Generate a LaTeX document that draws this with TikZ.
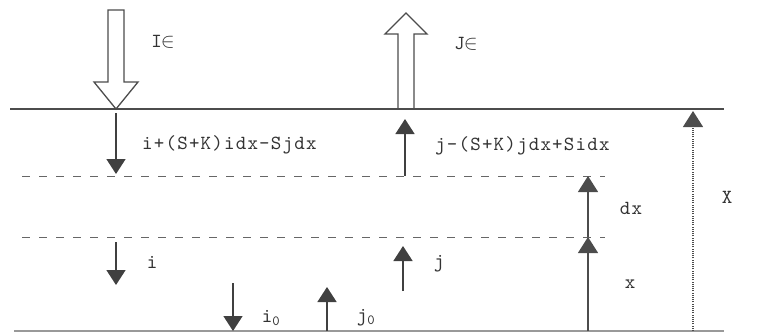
\documentclass[tikz,border=0pt]{standalone}
\usepackage{fontspec}
\newfontfamily\labelfont{lmmono10-regular.otf}[LetterSpace=6]
\usetikzlibrary{arrows.meta, positioning}

\begin{document}
\begin{tikzpicture}[
        x=1pt, y=-1pt,
        every node/.style={font=\labelfont\fontsize{20}{20}\selectfont, text=black!80, inner sep=0pt},
        flux/.style={-{Triangle[width=19pt, length=15pt]}, line width=1.6pt, black!75},
        level/.style={line width=1.1pt, black!70},
        layer/.style={line width=1pt, black!60, dash pattern=on 8pt off 9pt},
        bigarrow/.style={line width=1.3pt, black!70, line join=miter}
    ]

    \tikzset{
    dimen/.style={-{Triangle[width=20pt, length=16pt]}, line width=1.2pt, black!70},
    total/.style={dimen, dash pattern=on 1pt off 1.2pt}
}

    \useasboundingbox (0,0) rectangle (760,333);

    % levels
    \coordinate (surfL) at (10,109);
    \coordinate (surfR) at (724,109);
    \coordinate (baseL) at (14,331);
    \coordinate (baseR) at (724,331);
    \coordinate (upL) at (22,176);
    \coordinate (upR) at (605,176);
    \coordinate (loL) at (22,237);
    \coordinate (loR) at (605,237);

    \draw[level] (surfL) -- (surfR);
    \draw[level, black!40] (baseL) -- (baseR);
    \draw[layer] (upL) -- (upR);
    \draw[layer] (loL) -- (loR);

    % incident and emergent fluxes
    \draw[bigarrow] (108,10) -- (124,10) -- (124,82) -- (138,82) -- (116,109)
        -- (94,82) -- (108,82) -- cycle;
    \draw[bigarrow] (398,109) -- (398,34) -- (385,34) -- (406,13) -- (427,34)
        -- (414,34) -- (414,109);

    \node (IE) at (163,42) {I\kern-1pt$\in$};
    \node (JE) at (466,44) {J\kern-1pt$\in$};

    % fluxes in the layer
    \coordinate (i1s) at (116,113);
    \coordinate (i1e) at (116,174);
    \coordinate (j1s) at (405,176);
    \coordinate (j1e) at (405,119);
    \coordinate (i2s) at (116,242);
    \coordinate (i2e) at (116,285);
    \coordinate (j2s) at (403,291);
    \coordinate (j2e) at (403,246);
    \coordinate (i0s) at (233,283);
    \coordinate (i0e) at (233,331);
    \coordinate (j0s) at (327,331);
    \coordinate (j0e) at (327,287);

    \draw[flux] (i1s) -- (i1e);
    \draw[flux] (j1s) -- (j1e);
    \draw[flux] (i2s) -- (i2e);
    \draw[flux] (j2s) -- (j2e);
    \draw[flux] (i0s) -- (i0e);
    \draw[flux] (j0s) -- (j0e);

    \node[anchor=west] (i1) at (142,145) {i+(S+K)idx-Sjdx};
    \node[anchor=west] (j1) at (435,146) {j-(S+K)jdx+Sidx};
    \node (i2) at (152,262) {i};
    \node (j2) at (439,264) {j};
    \node (i0) at (271,318) {i\textsubscript{0}};
    \node (j0) at (366,318) {j\textsubscript{0}};

    % depths
    \coordinate (xbot) at (588,331);
    \coordinate (xlo) at (588,237);
    \coordinate (xup) at (588,176);
    \coordinate (Xbot) at (693,331);
    \coordinate (Xtop) at (693,111);

    \draw[dimen] (xbot) -- (xlo);
    \draw[dimen] (xlo) -- (xup);
    \draw[total] (Xbot) -- (Xtop);

    \node (dx) at (631,208) {dx};
    \node (x) at (630,284) {x};
    \node (X) at (727,197) {X};
    \end{tikzpicture}
\end{document}
